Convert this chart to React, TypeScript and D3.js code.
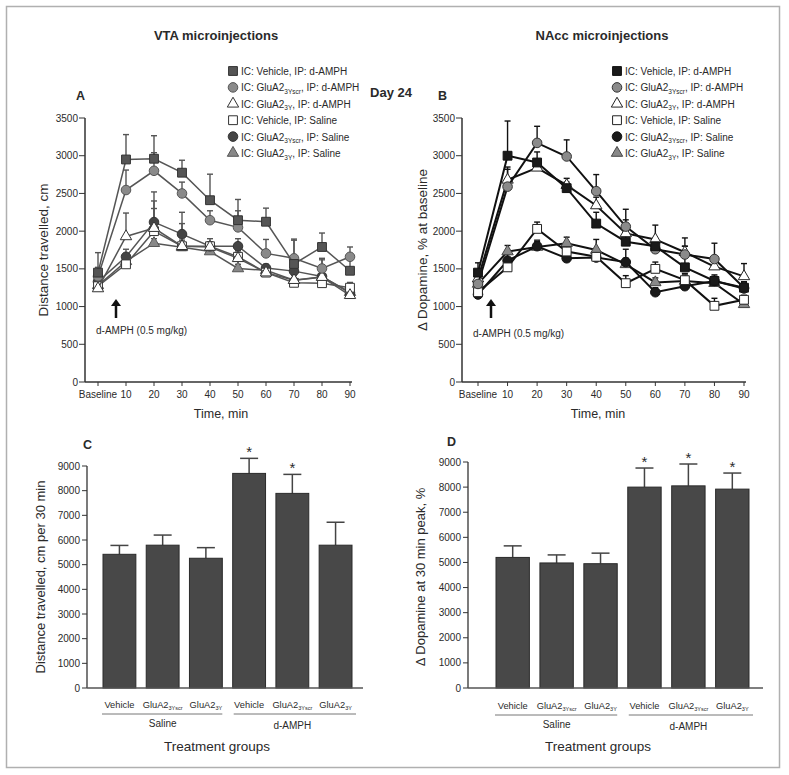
import React from "react";
import * as d3 from "d3";

const timeLabels = ["Baseline", "10", "20", "30", "40", "50", "60", "70", "80", "90"];

// VTA microinjections (panel A)
const vtaVehAmph = [1450, 2950, 2960, 2775, 2410, 2145, 2125, 1565, 1790, 1475];
const vtaVehAmphErr = [1715, 3280, 3265, 2940, 2755, 2420, 2305, 1895, 1975, 1620];
const vtaScrAmph = [1400, 2545, 2800, 2500, 2145, 2050, 1705, 1640, 1505, 1660];
const vtaScrAmphErr = [1520, 2810, 3040, 2650, 2270, 2270, 1890, 1880, 1620, 1790];
const vta3YAmph = [1240, 1930, 2040, 1800, 1790, 1640, 1450, 1350, 1390, 1150];
const vta3YAmphErr = [1320, 2240, 2400, 2100, 1850, 1720, 1520, 1420, 1450, 1220];
const vtaVehSal = [1270, 1560, 2000, 1800, 1800, 1660, 1450, 1315, 1310, 1250];
const vtaVehSalErr = [1330, 1640, 2300, 1880, 1860, 1740, 1510, 1380, 1370, 1320];
const vtaScrSal = [1330, 1660, 2120, 1960, 1800, 1800, 1510, 1470, 1400, 1180];
const vtaScrSalErr = [1400, 1760, 2520, 2250, 1900, 1900, 1560, 1640, 1640, 1230];
const vta3YSal = [1280, 1600, 1840, 1785, 1730, 1505, 1480, 1350, 1395, 1190];
const vta3YSalErr = [1330, 1680, 1900, 1850, 1800, 1560, 1530, 1420, 1450, 1240];

// NAcc microinjections (panel B)
const naVehAmph = [1450, 3000, 2910, 2570, 2100, 1860, 1800, 1520, 1340, 1250];
const naVehAmphErr = [1580, 3460, 3050, 2650, 2250, 2150, 1900, 1910, 1420, 1320];
const naScrAmph = [1300, 2590, 3170, 2990, 2530, 2060, 1760, 1690, 1630, 1250];
const naScrAmphErr = [1400, 2820, 3390, 3210, 2750, 2290, 1850, 1800, 1840, 1330];
const na3YAmph = [1370, 2680, 2840, 2610, 2340, 1970, 1890, 1720, 1530, 1400];
const na3YAmphErr = [1450, 2850, 2950, 2700, 2450, 2100, 2080, 1800, 1650, 1570];
const naVehSal = [1190, 1520, 2030, 1730, 1660, 1310, 1500, 1350, 1010, 1090];
const naVehSalErr = [1250, 1600, 2120, 1800, 1720, 1410, 1590, 1420, 1110, 1150];
const naScrSal = [1160, 1610, 1800, 1640, 1650, 1590, 1190, 1270, 1340, 1240];
const naScrSalErr = [1220, 1700, 1880, 1700, 1720, 1760, 1250, 1330, 1400, 1300];
const na3YSal = [1300, 1730, 1790, 1840, 1750, 1560, 1320, 1340, 1310, 1030];
const na3YSalErr = [1360, 1810, 1860, 1920, 1890, 1640, 1380, 1440, 1380, 1080];

const legendParts: [string, string, string][] = [
  ["IC: Vehicle, IP: d-AMPH", "", ""],
  ["IC: GluA2", "3Yscr", ", IP: d-AMPH"],
  ["IC: GluA2", "3Y", ", IP: d-AMPH"],
  ["IC: Vehicle, IP: Saline", "", ""],
  ["IC: GluA2", "3Yscr", ", IP: Saline"],
  ["IC: GluA2", "3Y", ", IP: Saline"],
];

const lineTicks = [0, 500, 1000, 1500, 2000, 2500, 3000, 3500];
const barTicks = [0, 1000, 2000, 3000, 4000, 5000, 6000, 7000, 8000, 9000];

// Bar panels
const barGroups = ["Vehicle", "GluA2|3Yscr", "GluA2|3Y", "Vehicle", "GluA2|3Yscr", "GluA2|3Y"];
const barKeys = ["s1", "s2", "s3", "a1", "a2", "a3"];
const vtaBars = [5420, 5790, 5260, 8700, 7890, 5790];
const vtaBarsErr = [5780, 6200, 5690, 9310, 8660, 6720];
const vtaSig = [false, false, false, true, true, false];
const naBars = [5200, 4980, 4950, 8000, 8050, 7920];
const naBarsErr = [5660, 5300, 5370, 8760, 8920, 8560];
const naSig = [false, false, false, true, true, true];

const FONT = "'Liberation Sans', Arial, Helvetica, sans-serif";
const TXT = "#2a2a2a";

type Style = { shape: "square" | "circle" | "triangle"; fill: string; stroke: string };

function symPath(shape: string) {
  if (shape === "square") return d3.symbol(d3.symbolSquare, 78)();
  if (shape === "circle") return d3.symbol(d3.symbolCircle, 72)();
  return d3.symbol(d3.symbolTriangle, 56)();
}

function Legend({ x, styles }: { x: number; styles: Style[] }) {
  const ys = [75, 91.4, 107.8, 124.2, 140.6, 157];
  return (
    <g>
      {legendParts.map((p, i) => (
        <g key={i}>
          <path
            d={symPath(styles[i].shape) as string}
            transform={`translate(${x},${ys[i] - 4})`}
            fill={styles[i].fill}
            stroke={styles[i].stroke}
            strokeWidth={1}
          />
          <text x={x + 8} y={ys[i]} fontSize={10} fontFamily={FONT} fill={TXT}>
            <tspan>{p[0]}</tspan>
            {p[1] ? (
              <>
                <tspan fontSize={6.5} dy={2.5}>{p[1]}</tspan>
                <tspan dy={-2.5}>{p[2]}</tspan>
              </>
            ) : null}
          </text>
        </g>
      ))}
    </g>
  );
}

function LinePanel({
  x0, x1, axisX, axisEnd, series, errs, styles, lineColor, lineWidth, yLabel, yLabelX,
  arrowX, arrowTextX, arrowTextY, timeX,
}: any) {
  const x = d3.scalePoint<string>().domain(timeLabels).range([x0, x1]);
  const y = d3.scaleLinear().domain([0, 3500]).range([382, 118]);
  const line = d3
    .line<number>()
    .x((_, i) => x(timeLabels[i]) as number)
    .y((d) => y(d));
  const order = [5, 4, 3, 2, 1, 0];
  return (
    <g fontFamily={FONT}>
      <line x1={axisX} x2={axisX} y1={y(3500)} y2={y(0)} stroke="#333" strokeWidth={1.5} />
      <line x1={axisX} x2={axisEnd} y1={y(0)} y2={y(0)} stroke="#333" strokeWidth={1.5} />
      {lineTicks.map((t) => (
        <g key={t}>
          <line x1={axisX - 6} x2={axisX} y1={y(t)} y2={y(t)} stroke="#333" strokeWidth={1} />
          <text x={axisX - 7} y={y(t) + 3.5} textAnchor="end" fontSize={10} fill={TXT}>
            {t}
          </text>
        </g>
      ))}
      {timeLabels.map((t) => (
        <g key={t}>
          <line x1={x(t)} x2={x(t)} y1={y(0)} y2={y(0) + 4} stroke="#333" strokeWidth={1} />
          <text x={x(t)} y={398} textAnchor="middle" fontSize={10} fill={TXT}>
            {t}
          </text>
        </g>
      ))}
      <text
        transform={`translate(${yLabelX},250) rotate(-90)`}
        textAnchor="middle"
        fontSize={13.5}
        fill={TXT}
      >
        {yLabel}
      </text>
      <text x={timeX} y={418} textAnchor="middle" fontSize={12.5} fill={TXT}>
        Time, min
      </text>
      <line x1={arrowX} x2={arrowX} y1={318} y2={305} stroke="#111" strokeWidth={2.5} />
      <path d={`M${arrowX - 5},${306} L${arrowX},${299} L${arrowX + 5},${306} Z`} fill="#111" />
      <text x={arrowTextX} y={arrowTextY} fontSize={10} fill={TXT}>
        d-AMPH (0.5 mg/kg)
      </text>
      {order.map((si) => (
        <g key={"e" + si}>
          {series[si].map((v: number, i: number) => {
            const px = x(timeLabels[i]) as number;
            return (
              <g key={i}>
                <line x1={px} x2={px} y1={y(v)} y2={y(errs[si][i])} stroke={lineColor} strokeWidth={1.4} />
                <line x1={px - 3} x2={px + 3} y1={y(errs[si][i])} y2={y(errs[si][i])} stroke={lineColor} strokeWidth={1.4} />
              </g>
            );
          })}
        </g>
      ))}
      {order.map((si) => (
        <g key={"l" + si}>
          <path d={line(series[si]) as string} fill="none" stroke={lineColor} strokeWidth={lineWidth} />
          {series[si].map((v: number, i: number) => (
            <path
              key={i}
              d={symPath(styles[si].shape) as string}
              transform={`translate(${x(timeLabels[i])},${y(v)})`}
              fill={styles[si].fill}
              stroke={styles[si].stroke}
              strokeWidth={1}
            />
          ))}
        </g>
      ))}
    </g>
  );
}

function BarPanel({ axisX, axisEnd, r0, r1, yTop, values, errs, sig, yLabel, yLabelX, letter, letterX, letterY, lineY, labelY, groupY, tgX }: any) {
  const x = d3.scaleBand<string>().domain(barKeys).range([r0, r1]).paddingInner(0.24);
  const y = d3.scaleLinear().domain([0, 9000]).range([688, yTop]);
  const bw = x.bandwidth();
  return (
    <g fontFamily={FONT}>
      <text x={letterX} y={letterY} fontSize={12.5} fontWeight="bold" fill={TXT}>
        {letter}
      </text>
      {values.map((v: number, i: number) => {
        const bx = x(barKeys[i]) as number;
        const cx = bx + bw / 2;
        return (
          <g key={i}>
            <line x1={cx} x2={cx} y1={y(v)} y2={y(errs[i])} stroke="#444" strokeWidth={1.5} />
            <line x1={cx - 9} x2={cx + 9} y1={y(errs[i])} y2={y(errs[i])} stroke="#444" strokeWidth={1.5} />
            <rect x={bx} y={y(v)} width={bw} height={y(0) - y(v)} fill="#484848" stroke="#2a2a2a" strokeWidth={1} />
            {sig[i] ? (
              <text x={cx} y={y(errs[i]) - 1} textAnchor="middle" fontSize={15} fill={TXT}>
                *
              </text>
            ) : null}
            <text x={cx} y={labelY} textAnchor="middle" fontSize={9.3} fill={TXT}>
              {barGroups[i].split("|")[0]}
              {barGroups[i].includes("|") ? (
                <tspan fontSize={5.5} dy={2}>{barGroups[i].split("|")[1]}</tspan>
              ) : null}
            </text>
          </g>
        );
      })}
      <line x1={axisX} x2={axisX} y1={y(9000)} y2={y(0)} stroke="#333" strokeWidth={1.3} />
      <line x1={axisX} x2={axisEnd} y1={y(0)} y2={y(0)} stroke="#555" strokeWidth={1.5} />
      {barTicks.map((t) => (
        <g key={t}>
          <line x1={axisX - 5} x2={axisX} y1={y(t)} y2={y(t)} stroke="#333" strokeWidth={1} />
          <text x={axisX - 7} y={y(t) + 3.5} textAnchor="end" fontSize={10} fill={TXT}>
            {t}
          </text>
        </g>
      ))}
      <line x1={(x("s1") as number) - 1} x2={(x("s3") as number) + bw} y1={lineY} y2={lineY} stroke="#777" strokeWidth={1} />
      <line x1={(x("a1") as number) + 1} x2={(x("a3") as number) + bw + 4} y1={lineY} y2={lineY} stroke="#777" strokeWidth={1} />
      <text x={((x("s1") as number) + (x("s3") as number) + bw) / 2} y={groupY} textAnchor="middle" fontSize={10} fill={TXT}>
        Saline
      </text>
      <text x={((x("a1") as number) + (x("a3") as number) + bw) / 2} y={groupY + 2} textAnchor="middle" fontSize={10} fill={TXT}>
        d-AMPH
      </text>
      <text x={tgX} y={751} textAnchor="middle" fontSize={13.5} fill={TXT}>
        Treatment groups
      </text>
      <text transform={`translate(${yLabelX},577) rotate(-90)`} textAnchor="middle" fontSize={13} fill={TXT}>
        {yLabel}
      </text>
    </g>
  );
}

export default function App() {
  const stylesA: Style[] = [
    { shape: "square", fill: "#555", stroke: "#333" },
    { shape: "circle", fill: "#8a8a8a", stroke: "#555" },
    { shape: "triangle", fill: "#fff", stroke: "#333" },
    { shape: "square", fill: "#fff", stroke: "#333" },
    { shape: "circle", fill: "#444", stroke: "#333" },
    { shape: "triangle", fill: "#888", stroke: "#555" },
  ];
  const stylesB: Style[] = [
    { shape: "square", fill: "#1a1a1a", stroke: "#111" },
    { shape: "circle", fill: "#8a8a8a", stroke: "#333" },
    { shape: "triangle", fill: "#fff", stroke: "#222" },
    { shape: "square", fill: "#fff", stroke: "#222" },
    { shape: "circle", fill: "#1a1a1a", stroke: "#111" },
    { shape: "triangle", fill: "#888", stroke: "#444" },
  ];
  return (
    <svg width={789} height={775} style={{ position: "absolute", left: 0, top: 0, background: "#fff" }}>
      <rect x={0} y={0} width={789} height={775} fill="#fff" />
      <rect x={6.5} y={6.5} width={773} height={761} fill="none" stroke="#b0b0b0" strokeWidth={1.5} />
      <g fontFamily={FONT}>
        <text x={216} y={40} textAnchor="middle" fontSize={13} fontWeight="bold" fill={TXT}>
          VTA microinjections
        </text>
        <text x={602} y={40} textAnchor="middle" fontSize={13} fontWeight="bold" fill={TXT}>
          NAcc microinjections
        </text>
        <text x={391} y={97} textAnchor="middle" fontSize={13} fontWeight="bold" fill={TXT}>
          Day 24
        </text>
        <text x={76} y={100} fontSize={12.5} fontWeight="bold" fill={TXT}>
          A
        </text>
        <text x={438} y={100} fontSize={12.5} fontWeight="bold" fill={TXT}>
          B
        </text>
      </g>
      <Legend x={233} styles={stylesA} />
      <Legend x={617} styles={stylesB} />
      <LinePanel
        x0={98} x1={350} axisX={85} axisEnd={352}
        series={[vtaVehAmph, vtaScrAmph, vta3YAmph, vtaVehSal, vtaScrSal, vta3YSal]}
        errs={[vtaVehAmphErr, vtaScrAmphErr, vta3YAmphErr, vtaVehSalErr, vtaScrSalErr, vta3YSalErr]}
        styles={stylesA} lineColor="#555" lineWidth={1.5}
        yLabel="Distance travelled, cm" yLabelX={48}
        arrowX={116} arrowTextX={96} arrowTextY={334} timeX={221}
      />
      <LinePanel
        x0={478} x1={744} axisX={462} axisEnd={746}
        series={[naVehAmph, naScrAmph, na3YAmph, naVehSal, naScrSal, na3YSal]}
        errs={[naVehAmphErr, naScrAmphErr, na3YAmphErr, naVehSalErr, naScrSalErr, na3YSalErr]}
        styles={stylesB} lineColor="#111" lineWidth={2}
        yLabel="Δ Dopamine, % at baseline" yLabelX={427}
        arrowX={491} arrowTextX={473} arrowTextY={337} timeX={598}
      />
      <BarPanel
        axisX={87} axisEnd={363} r0={103} r1={352} yTop={466}
        values={vtaBars} errs={vtaBarsErr} sig={vtaSig}
        yLabel="Distance travelled, cm per 30 min" yLabelX={45}
        letter="C" letterX={83} letterY={449} lineY={714} labelY={708} groupY={727} tgX={217}
      />
      <BarPanel
        axisX={468} axisEnd={763} r0={496} r1={749} yTop={462}
        values={naBars} errs={naBarsErr} sig={naSig}
        yLabel="Δ Dopamine at 30 min peak, %" yLabelX={425}
        letter="D" letterX={447} letterY={446} lineY={715} labelY={709} groupY={728} tgX={598}
      />
    </svg>
  );
}
